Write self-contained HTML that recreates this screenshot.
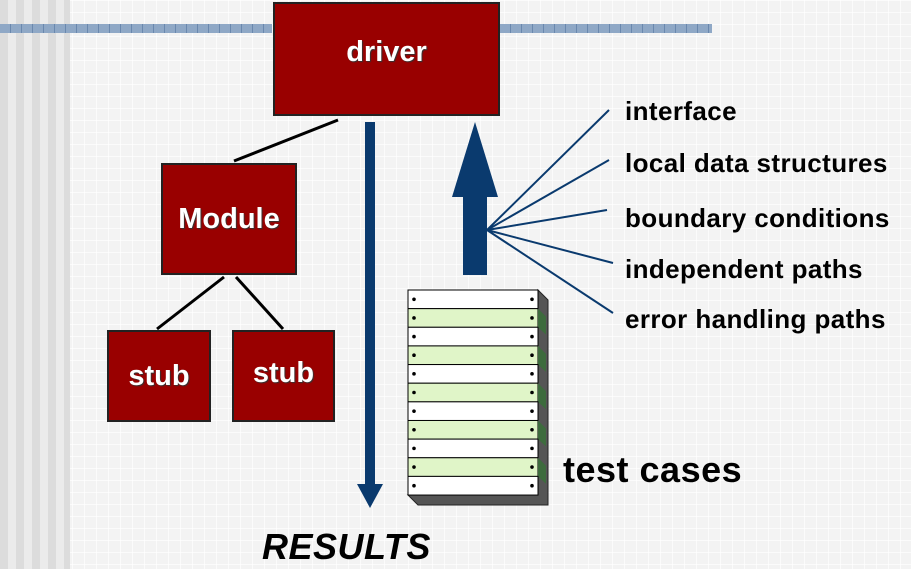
<!DOCTYPE html>
<html><head><style>
body{margin:0;width:911px;height:569px;overflow:hidden;position:relative;font-family:"Liberation Sans",Arial,sans-serif;
background:#f3f3f3;
background-image:linear-gradient(90deg,rgba(255,255,255,.7) 1px,transparent 1px),linear-gradient(rgba(255,255,255,.7) 1px,transparent 1px);
background-size:12px 12px;}
.strip{position:absolute;left:0;top:0;width:70px;height:569px;background:repeating-linear-gradient(90deg,#dcdcdc 0 8px,#ebebeb 8px 16px);}
.band{position:absolute;top:24px;height:9px;background:#8fa8c6;background-image:repeating-linear-gradient(90deg,transparent 0 10px,#6a88ae 10px 11px);}
.box{position:absolute;background:#990000;border:2px solid #222;color:#fff;font-weight:bold;font-size:29px;display:flex;align-items:center;justify-content:center;text-shadow:1px 1px 1px #333;box-sizing:border-box;}
.lbl{position:absolute;font-weight:bold;font-size:26px;letter-spacing:0.4px;color:#000;white-space:nowrap;}
</style></head><body>
<div class="strip"></div>
<div class="band" style="left:0;width:272px"></div>
<div class="band" style="left:500px;width:212px"></div>
<svg width="911" height="569" style="position:absolute;left:0;top:0">
<g stroke="#000" stroke-width="3">
<line x1="338" y1="120" x2="234" y2="161"/>
<line x1="224" y1="277" x2="157" y2="329"/>
<line x1="236" y1="277" x2="283" y2="329"/>
</g>
<rect x="365" y="122" width="10" height="362" fill="#0a3a6e"/>
<polygon points="357,484 383,484 370,508" fill="#0a3a6e"/>
<rect x="463" y="195" width="24" height="80" fill="#0a3a6e"/>
<polygon points="452,197 498,197 475,122" fill="#0a3a6e"/>
<g stroke="#0a3a6e" stroke-width="2">
<line x1="487" y1="230" x2="609" y2="110"/>
<line x1="487" y1="230" x2="609" y2="160"/>
<line x1="487" y1="230" x2="607" y2="210"/>
<line x1="487" y1="230" x2="613" y2="263"/>
<line x1="487" y1="230" x2="613" y2="313"/>
</g>
<g>
<polygon points="538,290 548,300 548,505 418,505 408,495 538,495" fill="#555" stroke="#222"/>
<rect x="408" y="290" width="130" height="205" fill="#fff" stroke="#000"/>
</g>
<g id="rows"></g>
</svg>
<div class="box" style="left:273px;top:2px;width:227px;height:114px;padding-bottom:14px">driver</div>
<div class="box" style="left:161px;top:163px;width:136px;height:112px">Module</div>
<div class="box" style="left:107px;top:330px;width:104px;height:92px">stub</div>
<div class="box" style="left:232px;top:330px;width:103px;height:92px;padding-bottom:6px">stub</div>
<div class="lbl" style="left:625px;top:96px">interface</div>
<div class="lbl" style="left:625px;top:148px">local data structures</div>
<div class="lbl" style="left:625px;top:203px">boundary conditions</div>
<div class="lbl" style="left:625px;top:254px">independent paths</div>
<div class="lbl" style="left:625px;top:304px">error handling paths</div>
<div class="lbl" style="left:563px;top:449px;font-size:36px;letter-spacing:0.5px">test cases</div>
<div class="lbl" style="left:262px;top:526px;font-size:36px;font-style:italic;letter-spacing:0.5px">RESULTS</div>
<script>
var g=document.getElementById('rows'),s='';
for(var i=0;i<11;i++){var y=290+i*18.64;
s+='<rect x="408" y="'+y+'" width="130" height="18.64" fill="'+(i%2?'#e0f5c8':'#fff')+'" stroke="#000" stroke-width="1"/>';
s+='<circle cx="414" cy="'+(y+9.3)+'" r="1.8" fill="#000"/><circle cx="532" cy="'+(y+9.3)+'" r="1.8" fill="#000"/>';
if(i%2)s+='<polygon points="538,'+y+' 546,'+(y+8)+' 546,'+(y+26)+' 538,'+(y+18.6)+'" fill="#3d6b3d"/>';}
g.innerHTML=s;
</script>
</body></html>
